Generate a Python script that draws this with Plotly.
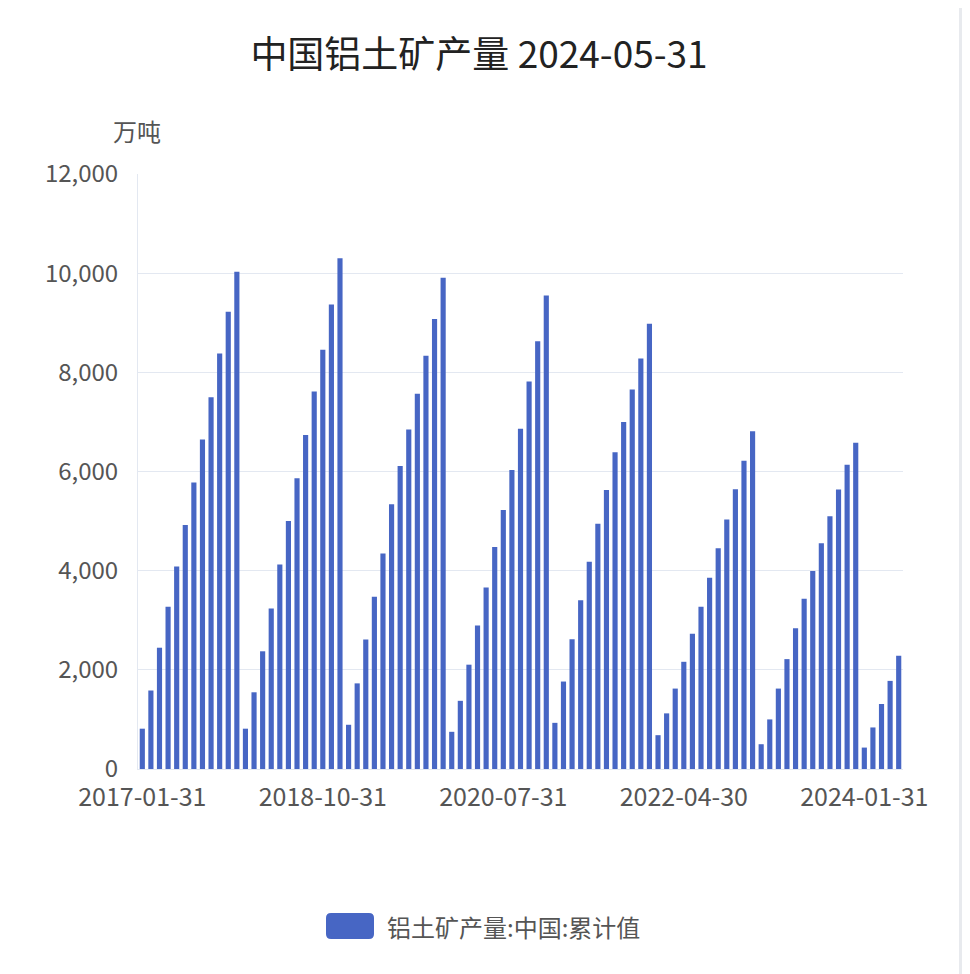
'''
China bauxite output (cumulative, 10k tonnes), monthly bars 2017-01 .. 2024-05
'''

import pandas as pd
import plotly.graph_objects as go

# cumulative value for each month (万吨)
v2017 = [813, 1583, 2446, 3273, 4086, 4921, 5777, 6647, 7496, 8381, 9223, 10030]
v2018 = [813, 1547, 2374, 3237, 4122, 5000, 5863, 6734, 7612, 8453, 9367, 10302]
v2019 = [892, 1727, 2612, 3475, 4345, 5340, 6111, 6847, 7569, 8333, 9076, 9910]
v2020 = [750, 1375, 2104, 2896, 3660, 4479, 5222, 6028, 6861, 7813, 8625, 9549]
v2021 = [931, 1764, 2618, 3403, 4181, 4944, 5625, 6389, 7000, 7653, 8278, 8979]
v2022 = [682, 1122, 1622, 2162, 2730, 3270, 3858, 4453, 5034, 5642, 6216, 6811]
v2023 = [500, 1000, 1622, 2216, 2838, 3432, 3993, 4554, 5095, 5635, 6135, 6581]
v2024 = [432, 838, 1311, 1777, 2284]

values = v2017 + v2018 + v2019 + v2020 + v2021 + v2022 + v2023 + v2024
dates = [d.strftime('%Y-%m-%d') for d in
         pd.date_range('2017-01-31', periods=len(values), freq='ME')]
tick_labels = ['2017-01-31', '2018-10-31', '2020-07-31', '2022-04-30', '2024-01-31']

series_name = '铝土矿产量:中国:累计值'
title_text = '中国铝土矿产量 2024-05-31'
unit_text = '万吨'

bar_color = '#4766c4'
grid_color = '#e3e8f1'
text_color = '#555555'
font_family = 'Noto Sans CJK SC'

# the page body keeps an 8px margin, so the figure is a bit smaller than the window
W, H = 962, 966
PLOT_L, PLOT_R, PLOT_T, PLOT_B = 138, 903, 174, 769   # plot box in window pixels


def xp(px):
    # window x pixel -> paper x
    return (px - PLOT_L) / (PLOT_R - PLOT_L)


def yp(py):
    # window y pixel -> paper y
    return (PLOT_B - py) / (PLOT_B - PLOT_T)


fig = go.Figure()
fig.add_trace(go.Bar(x=dates, y=values, name=series_name,
                     marker=dict(color=bar_color, line=dict(width=0)),
                     showlegend=False))

fig.update_layout(
    width=W, height=H,
    margin=dict(l=PLOT_L - 8, r=W - (PLOT_R - 8), t=PLOT_T - 8, b=H - (PLOT_B - 8)),
    paper_bgcolor='#ffffff', plot_bgcolor='#ffffff',
    font=dict(family=font_family, color=text_color),
    bargap=0.4,
    title=dict(text=title_text, x=(479 - 8) / W, xanchor='center',
               y=1 - (55 - 8) / H, yanchor='middle',
               font=dict(size=37, color='#222222', family=font_family)),
)

fig.update_xaxes(type='category', tickmode='array', tickvals=tick_labels,
                 ticktext=tick_labels, showgrid=False, ticks='',
                 ticklabelstandoff=6,
                 tickfont=dict(size=25, color=text_color),
                 showline=True, linecolor=grid_color, linewidth=1)
fig.update_yaxes(range=[0, 12000], dtick=2000, tickformat=',d',
                 showgrid=True, gridcolor=grid_color, gridwidth=1,
                 zeroline=False, ticks='', ticklabelstandoff=14,
                 tickfont=dict(size=24, color=text_color),
                 showline=True, linecolor=grid_color, linewidth=1)

# unit label above the y axis
fig.add_annotation(text=unit_text, xref='paper', yref='paper',
                   x=xp(137), y=yp(130), xanchor='center', yanchor='middle',
                   showarrow=False, font=dict(size=24, color=text_color))

# legend drawn by hand: wide rounded swatch + label
fig.add_shape(type='path', xref='paper', yref='paper',
              xsizemode='pixel', ysizemode='pixel',
              xanchor=xp(350), yanchor=yp(926),
              path='M -19,-13 L 19,-13 Q 24,-13 24,-8 L 24,8 Q 24,13 19,13 '
                   'L -19,13 Q -24,13 -24,8 L -24,-8 Q -24,-13 -19,-13 Z',
              line=dict(width=0), fillcolor=bar_color)
fig.add_annotation(text=series_name, xref='paper', yref='paper',
                   x=xp(385), y=yp(926),
                   xanchor='left', yanchor='middle', showarrow=False,
                   font=dict(size=24, color=text_color))

# light strip along the right edge of the page
fig.add_shape(type='rect', xref='paper', yref='paper',
              x0=xp(959), x1=xp(990), y0=-0.4, y1=1.35,
              line=dict(width=0), fillcolor='#e8eaee', layer='below')

fig.write_html('out.html')
